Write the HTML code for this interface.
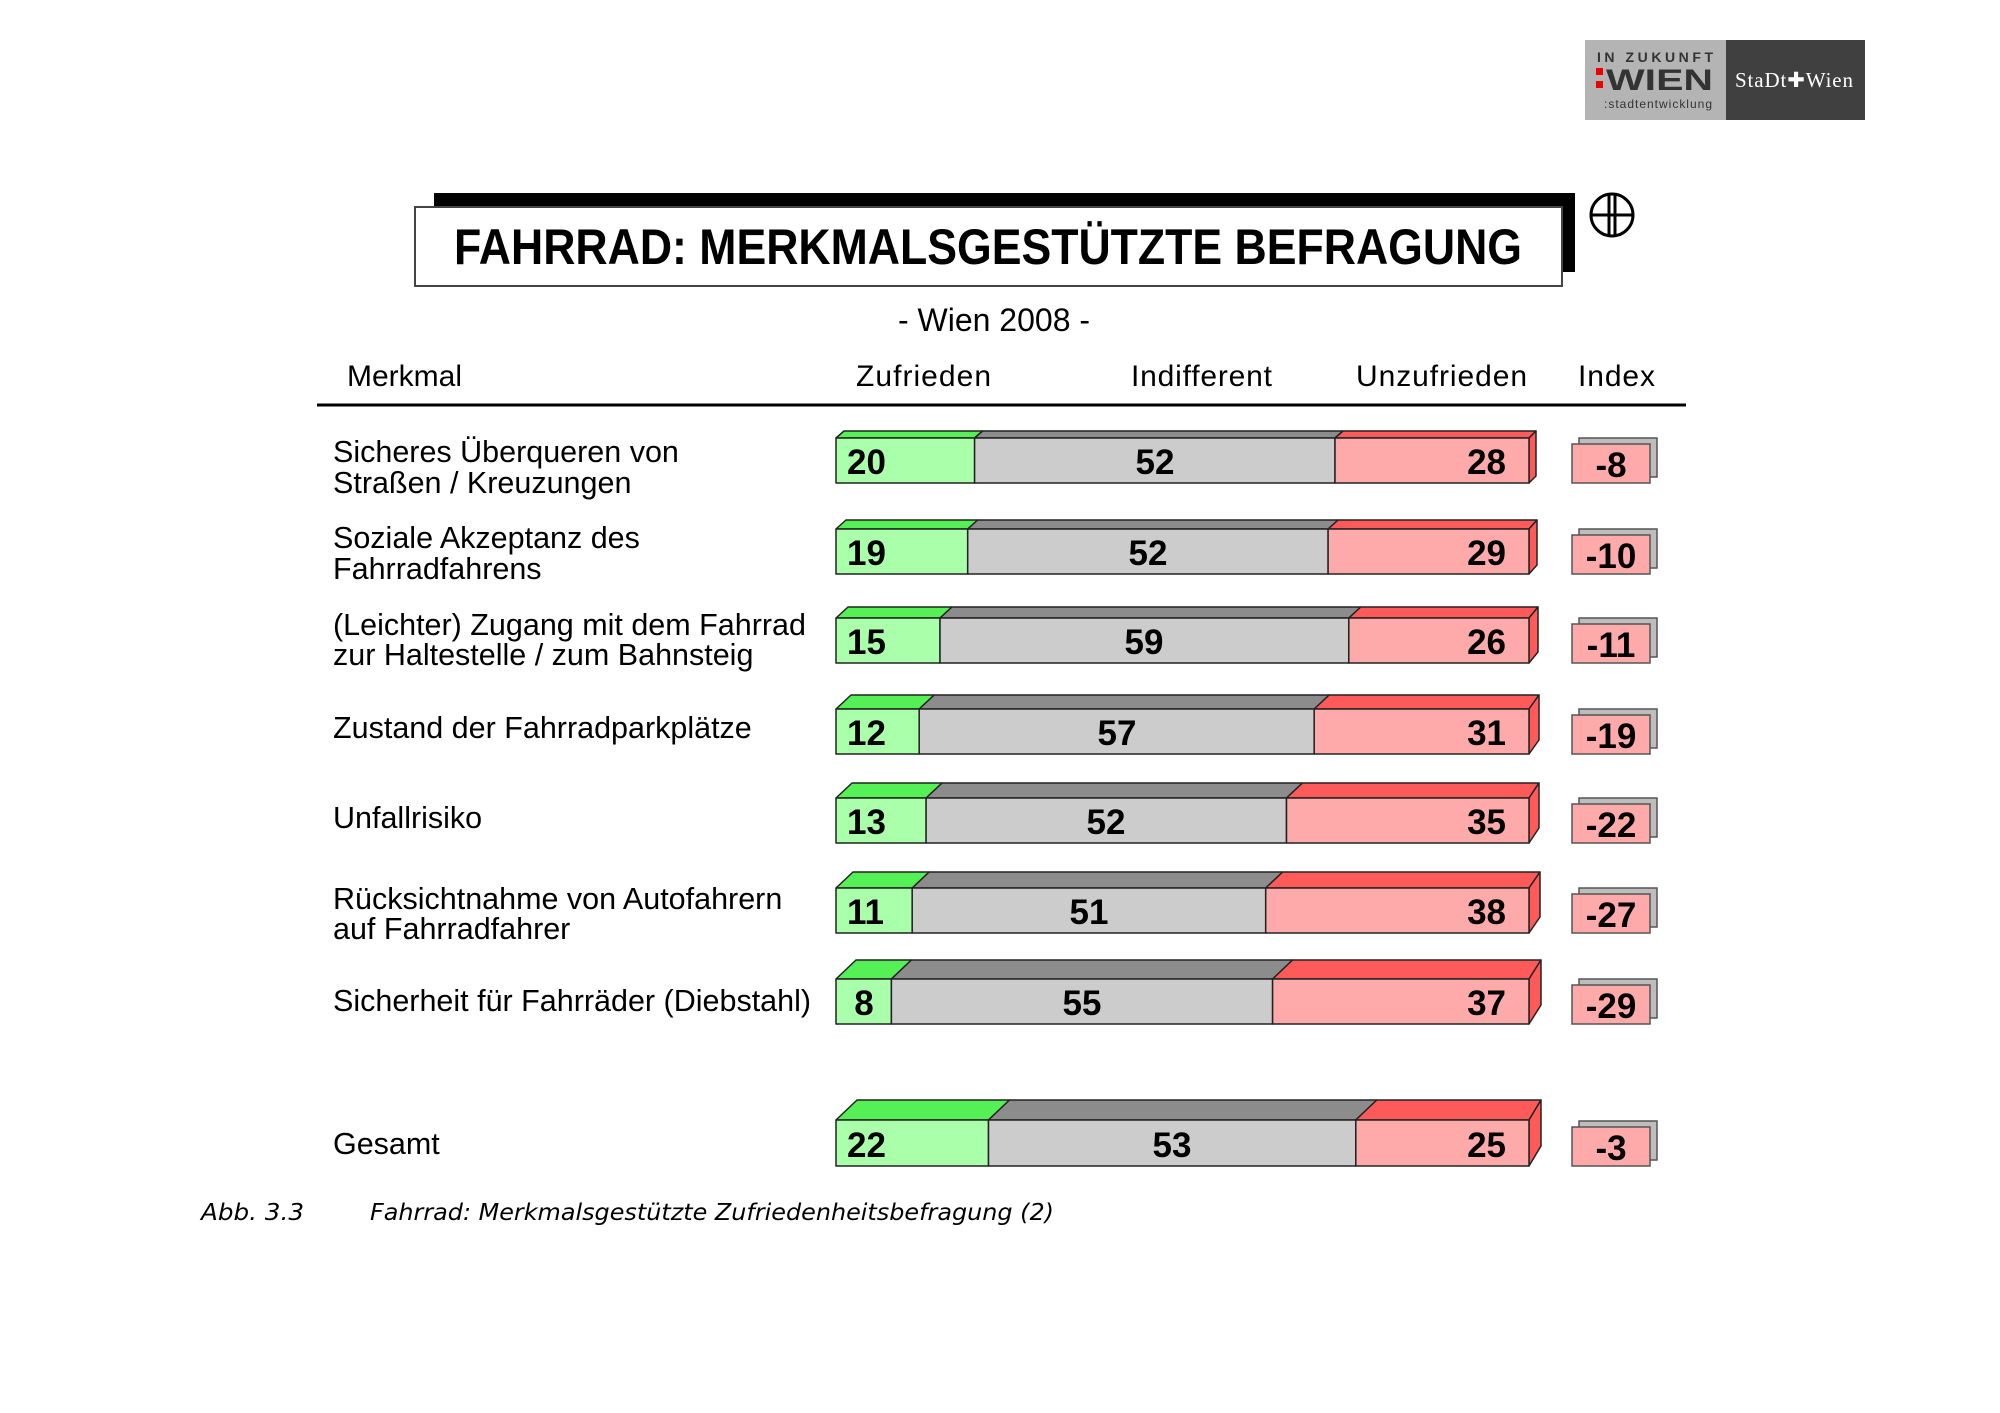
<!DOCTYPE html>
<html><head><meta charset="utf-8"><style>html,body{margin:0;padding:0;background:#fff}svg{display:block}</style></head>
<body>
<svg xmlns="http://www.w3.org/2000/svg" width="2000" height="1413" viewBox="0 0 2000 1413" font-family="'Liberation Sans', Arial, sans-serif">
<rect width="2000" height="1413" fill="#fff"/>
<!-- logo -->
<rect x="1585" y="40" width="141" height="80" fill="#b4b4b4"/>
<rect x="1726" y="40" width="139" height="80" fill="#404040"/>
<text x="1597" y="62" font-size="14" font-weight="bold" fill="#333" textLength="116">IN ZUKUNFT</text>
<rect x="1596" y="68" width="7" height="7" fill="#e00"/><rect x="1596" y="81" width="7" height="7" fill="#e00"/>
<text x="1606" y="90" font-size="30" font-weight="bold" fill="#333" textLength="107" lengthAdjust="spacingAndGlyphs">WIEN</text>
<text x="1604" y="108" font-size="12" fill="#333" textLength="108">:stadtentwicklung</text>
<text x="1735" y="87" font-size="21" font-family="'Liberation Serif', serif" fill="#fff" textLength="118">StaDt✚Wien</text>
<!-- symbol -->
<g fill="none" stroke="#000" stroke-width="3">
<circle cx="1612" cy="215" r="21"/>
<line x1="1591" y1="215" x2="1633" y2="215"/>
<line x1="1609" y1="194" x2="1609" y2="236"/><line x1="1615" y1="194" x2="1615" y2="236"/>
</g>
<!-- title -->
<rect x="434" y="193" width="1141" height="79" fill="#000"/>
<rect x="415" y="207" width="1147" height="79" fill="#fff" stroke="#444" stroke-width="2"/>
<text x="988" y="264" font-size="50" font-weight="bold" text-anchor="middle" textLength="1068" lengthAdjust="spacingAndGlyphs">FAHRRAD: MERKMALSGESTÜTZTE BEFRAGUNG</text>
<text x="994" y="331" font-size="32" text-anchor="middle">- Wien 2008 -</text>
<!-- headers -->
<g font-size="30">
<text x="347" y="386">Merkmal</text>
<text x="856" y="386" textLength="135">Zufrieden</text>
<text x="1131" y="386" textLength="141">Indifferent</text>
<text x="1356" y="386" textLength="171">Unzufrieden</text>
<text x="1578" y="386" textLength="77">Index</text>
</g>
<line x1="317" y1="405" x2="1686" y2="405" stroke="#000" stroke-width="3"/>
<!-- labels -->
<g font-size="30.5">
<text x="333" y="462">Sicheres Überqueren von</text>
<text x="333" y="493">Straßen / Kreuzungen</text>
<text x="333" y="548">Soziale Akzeptanz des</text>
<text x="333" y="579">Fahrradfahrens</text>
<text x="333" y="635">(Leichter) Zugang mit dem Fahrrad</text>
<text x="333" y="665">zur Haltestelle / zum Bahnsteig</text>
<text x="333" y="738">Zustand der Fahrradparkplätze</text>
<text x="333" y="828">Unfallrisiko</text>
<text x="333" y="909">Rücksichtnahme von Autofahrern</text>
<text x="333" y="939">auf Fahrradfahrer</text>
<text x="333" y="1011">Sicherheit für Fahrräder (Diebstahl)</text>
<text x="333" y="1154">Gesamt</text>
</g>
<!-- bars -->
<g stroke="#222" stroke-width="1.5" stroke-linejoin="round">
<polygon points="836,438 844,431 982.6,431 974.6,438" fill="#55f055"/>
<polygon points="974.6,438 982.6,431 1343,431 1335,438" fill="#8c8c8c"/>
<polygon points="1335,438 1343,431 1536,431 1529,438" fill="#ff5a5a"/>
<polygon points="1529,438 1536,431 1536,476 1529,483" fill="#ff5a5a"/>
<rect x="836" y="438" width="138.6" height="45" fill="#aaffaa"/>
<rect x="974.6" y="438" width="360.4" height="45" fill="#cccccc"/>
<rect x="1335" y="438" width="194" height="45" fill="#ffaaaa"/>

<polygon points="836,529 846,520 977.7,520 967.7,529" fill="#55f055"/>
<polygon points="967.7,529 977.7,520 1338.1,520 1328.1,529" fill="#8c8c8c"/>
<polygon points="1328.1,529 1338.1,520 1537,520 1529,529" fill="#ff5a5a"/>
<polygon points="1529,529 1537,520 1537,565 1529,574" fill="#ff5a5a"/>
<rect x="836" y="529" width="131.7" height="45" fill="#aaffaa"/>
<rect x="967.7" y="529" width="360.4" height="45" fill="#cccccc"/>
<rect x="1328.1" y="529" width="200.9" height="45" fill="#ffaaaa"/>

<polygon points="836,618 848,607 952,607 940,618" fill="#55f055"/>
<polygon points="940,618 952,607 1360.8,607 1348.8,618" fill="#8c8c8c"/>
<polygon points="1348.8,618 1360.8,607 1538,607 1529,618" fill="#ff5a5a"/>
<polygon points="1529,618 1538,607 1538,652 1529,663" fill="#ff5a5a"/>
<rect x="836" y="618" width="104" height="45" fill="#aaffaa"/>
<rect x="940" y="618" width="408.8" height="45" fill="#cccccc"/>
<rect x="1348.8" y="618" width="180.2" height="45" fill="#ffaaaa"/>

<polygon points="836,709 851,695 934.2,695 919.2,709" fill="#55f055"/>
<polygon points="919.2,709 934.2,695 1329.2,695 1314.2,709" fill="#8c8c8c"/>
<polygon points="1314.2,709 1329.2,695 1539,695 1529,709" fill="#ff5a5a"/>
<polygon points="1529,709 1539,695 1539,740 1529,754" fill="#ff5a5a"/>
<rect x="836" y="709" width="83.2" height="45" fill="#aaffaa"/>
<rect x="919.2" y="709" width="395" height="45" fill="#cccccc"/>
<rect x="1314.2" y="709" width="214.8" height="45" fill="#ffaaaa"/>

<polygon points="836,798 852,783 942.1,783 926.1,798" fill="#55f055"/>
<polygon points="926.1,798 942.1,783 1302.5,783 1286.5,798" fill="#8c8c8c"/>
<polygon points="1286.5,798 1302.5,783 1539,783 1529,798" fill="#ff5a5a"/>
<polygon points="1529,798 1539,783 1539,828 1529,843" fill="#ff5a5a"/>
<rect x="836" y="798" width="90.1" height="45" fill="#aaffaa"/>
<rect x="926.1" y="798" width="360.4" height="45" fill="#cccccc"/>
<rect x="1286.5" y="798" width="242.5" height="45" fill="#ffaaaa"/>

<polygon points="836,888 853,872 929.2,872 912.2,888" fill="#55f055"/>
<polygon points="912.2,888 929.2,872 1282.7,872 1265.7,888" fill="#8c8c8c"/>
<polygon points="1265.7,888 1282.7,872 1540,872 1529,888" fill="#ff5a5a"/>
<polygon points="1529,888 1540,872 1540,917 1529,933" fill="#ff5a5a"/>
<rect x="836" y="888" width="76.2" height="45" fill="#aaffaa"/>
<rect x="912.2" y="888" width="353.5" height="45" fill="#cccccc"/>
<rect x="1265.7" y="888" width="263.3" height="45" fill="#ffaaaa"/>

<polygon points="836,979 856,960 911.4,960 891.4,979" fill="#55f055"/>
<polygon points="891.4,979 911.4,960 1292.6,960 1272.6,979" fill="#8c8c8c"/>
<polygon points="1272.6,979 1292.6,960 1541,960 1529,979" fill="#ff5a5a"/>
<polygon points="1529,979 1541,960 1541,1005 1529,1024" fill="#ff5a5a"/>
<rect x="836" y="979" width="55.4" height="45" fill="#aaffaa"/>
<rect x="891.4" y="979" width="381.2" height="45" fill="#cccccc"/>
<rect x="1272.6" y="979" width="256.4" height="45" fill="#ffaaaa"/>

<polygon points="836,1120 857,1100 1009.5,1100 988.5,1120" fill="#55f055"/>
<polygon points="988.5,1120 1009.5,1100 1376.8,1100 1355.8,1120" fill="#8c8c8c"/>
<polygon points="1355.8,1120 1376.8,1100 1541,1100 1529,1120" fill="#ff5a5a"/>
<polygon points="1529,1120 1541,1100 1541,1146 1529,1166" fill="#ff5a5a"/>
<rect x="836" y="1120" width="152.5" height="46" fill="#aaffaa"/>
<rect x="988.5" y="1120" width="367.3" height="46" fill="#cccccc"/>
<rect x="1355.8" y="1120" width="173.2" height="46" fill="#ffaaaa"/>
</g>
<!-- values -->
<g font-size="35" font-weight="bold">
<text x="847" y="474">20</text><text x="1155" y="474" text-anchor="middle">52</text><text x="1506" y="474" text-anchor="end">28</text>
<text x="847" y="565">19</text><text x="1148" y="565" text-anchor="middle">52</text><text x="1506" y="565" text-anchor="end">29</text>
<text x="847" y="654">15</text><text x="1144" y="654" text-anchor="middle">59</text><text x="1506" y="654" text-anchor="end">26</text>
<text x="847" y="745">12</text><text x="1117" y="745" text-anchor="middle">57</text><text x="1506" y="745" text-anchor="end">31</text>
<text x="847" y="834">13</text><text x="1106" y="834" text-anchor="middle">52</text><text x="1506" y="834" text-anchor="end">35</text>
<text x="847" y="924">11</text><text x="1089" y="924" text-anchor="middle">51</text><text x="1506" y="924" text-anchor="end">38</text>
<text x="864" y="1015" text-anchor="middle">8</text><text x="1082" y="1015" text-anchor="middle">55</text><text x="1506" y="1015" text-anchor="end">37</text>
<text x="847" y="1157">22</text><text x="1172" y="1157" text-anchor="middle">53</text><text x="1506" y="1157" text-anchor="end">25</text>
</g>
<!-- index boxes -->
<g stroke="#555" stroke-width="1.5">
<rect x="1579" y="438" width="78" height="39" fill="#bdbdbd"/><rect x="1572" y="444" width="78" height="39" fill="#ffaaaa"/>
<rect x="1579" y="529" width="78" height="39" fill="#bdbdbd"/><rect x="1572" y="535" width="78" height="39" fill="#ffaaaa"/>
<rect x="1579" y="618" width="78" height="39" fill="#bdbdbd"/><rect x="1572" y="624" width="78" height="39" fill="#ffaaaa"/>
<rect x="1579" y="709" width="78" height="39" fill="#bdbdbd"/><rect x="1572" y="715" width="78" height="39" fill="#ffaaaa"/>
<rect x="1579" y="798" width="78" height="39" fill="#bdbdbd"/><rect x="1572" y="804" width="78" height="39" fill="#ffaaaa"/>
<rect x="1579" y="888" width="78" height="39" fill="#bdbdbd"/><rect x="1572" y="894" width="78" height="39" fill="#ffaaaa"/>
<rect x="1579" y="979" width="78" height="39" fill="#bdbdbd"/><rect x="1572" y="985" width="78" height="39" fill="#ffaaaa"/>
<rect x="1579" y="1121" width="78" height="39" fill="#bdbdbd"/><rect x="1572" y="1127" width="78" height="39" fill="#ffaaaa"/>
</g>
<g font-size="35" font-weight="bold" text-anchor="middle">
<text x="1611" y="477">-8</text>
<text x="1611" y="568">-10</text>
<text x="1611" y="657">-11</text>
<text x="1611" y="748">-19</text>
<text x="1611" y="837">-22</text>
<text x="1611" y="927">-27</text>
<text x="1611" y="1018">-29</text>
<text x="1611" y="1160">-3</text>
</g>
<!-- caption -->
<g font-family="'DejaVu Sans', sans-serif" font-style="italic" font-size="23">
<text x="201" y="1220" textLength="103" lengthAdjust="spacingAndGlyphs">Abb. 3.3</text>
<text x="370" y="1220" textLength="684" lengthAdjust="spacingAndGlyphs">Fahrrad: Merkmalsgestützte Zufriedenheitsbefragung (2)</text>
</g>
</svg>
</body></html>
